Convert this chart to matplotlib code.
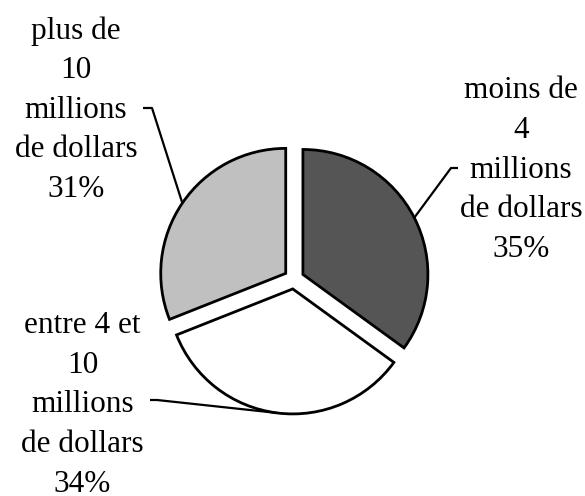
import numpy as np
import matplotlib.pyplot as plt

# Data
labels = ["moins de\n4\nmillions\nde dollars", "entre 4 et\n10\nmillions\nde dollars",
          "plus de\n10\nmillions\nde dollars"]
shares = [35, 34, 31]
colors = ["#555555", "#ffffff", "#c0c0c0"]

W, H = 585, 496
fig = plt.figure(figsize=(W / 100, H / 100), dpi=100)
ax = fig.add_axes([0, 0, 1, 1])

center = (294, 217)
radius = 125
gap = 10  # explode offset, in data units (pixels)
wedges, _ = ax.pie(shares, colors=colors, startangle=90, counterclock=False,
                   center=center, radius=radius, explode=[gap] * 3,
                   wedgeprops=dict(edgecolor="black", linewidth=2))
ax.set_xlim(0, W)
ax.set_ylim(0, H)
ax.set_aspect("equal")
ax.axis("off")

# label positions (text block centre) and elbow of the leader line
text_pos = [(521, 326), (82.5, 91), (76, 386)]
elbows = [((451, 328), (458, 328)), ((157, 96), (150, 96)), ((152, 388), (143, 388))]

for w, lab, pct, tp, (e1, e2) in zip(wedges, labels, shares, text_pos, elbows):
    mid = np.deg2rad((w.theta1 + w.theta2) / 2)
    cx = center[0] + gap * np.cos(mid)
    cy = center[1] + gap * np.sin(mid)
    ax_pt = (cx + radius * np.cos(mid), cy + radius * np.sin(mid))
    ax.plot([ax_pt[0], e1[0], e2[0]], [ax_pt[1], e1[1], e2[1]], color="black", lw=1.6,
            solid_capstyle="butt", zorder=3)
    ax.text(tp[0], tp[1], f"{lab}\n{pct}%", ha="center", va="center", multialignment="center",
            fontsize=22.5, family="Liberation Serif", linespacing=1.48)

fig.savefig("out.png", dpi=100)
